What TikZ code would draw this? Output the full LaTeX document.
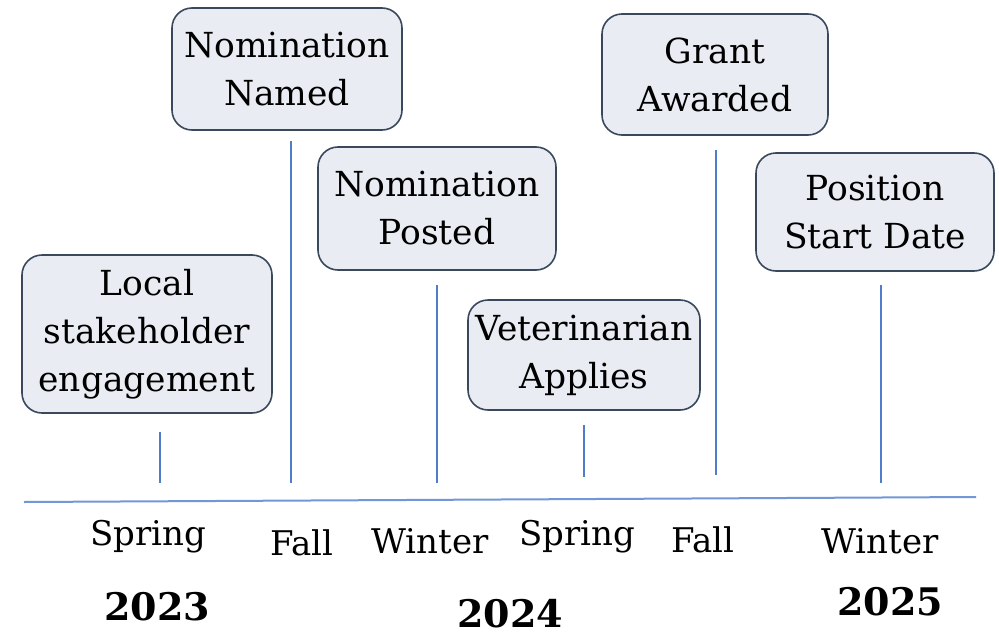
\documentclass[tikz,border=0pt]{standalone}
\usepackage{fontspec}
\setmainfont{DejaVu Serif}
\definecolor{boxfill}{RGB}{233,236,242}
\definecolor{boxline}{RGB}{58,72,92}
\definecolor{tl}{RGB}{80,124,204}
\begin{document}
\begin{tikzpicture}[x=1pt,y=-1pt,
  evbox/.style={draw=boxline, fill=boxfill, line width=1.6pt, rounded corners=20pt,
    align=center, inner sep=0pt, font=\fontsize{34.5}{48}\selectfont},
  season/.style={font=\fontsize{34}{40}\selectfont, inner sep=0pt},
  yearlbl/.style={font=\fontsize{38}{40}\selectfont\bfseries, inner sep=0pt},
  tick/.style={draw=tl, line width=1.3pt}]
\useasboundingbox (0,0) rectangle (999,640);

\node[evbox, minimum width=250pt, minimum height=158pt] (b1) at (147,334) {Local\\stakeholder\\engagement};
\node[evbox, minimum width=230pt, minimum height=122pt] (b2) at (287,69) {Nomination\\Named};
\node[evbox, minimum width=238pt, minimum height=123pt] (b3) at (437,208.5) {Nomination\\Posted};
\node[evbox, minimum width=232pt, minimum height=110pt] (b4) at (584,355) {Veterinarian\\Applies};
\node[evbox, minimum width=226pt, minimum height=121pt] (b5) at (715,74.5) {Grant\\Awarded};
\node[evbox, minimum width=238pt, minimum height=118pt] (b6) at (875,212) {Position\\Start Date};

\coordinate (t1a) at (160,432); \coordinate (t1b) at (160,483);
\coordinate (t2a) at (291,141); \coordinate (t2b) at (291,483);
\coordinate (t3a) at (437,285); \coordinate (t3b) at (437,483);
\coordinate (t4a) at (584,425); \coordinate (t4b) at (584,477);
\coordinate (t5a) at (716,150); \coordinate (t5b) at (716,475);
\coordinate (t6a) at (881,285); \coordinate (t6b) at (881,483);
\draw[tick] (t1a) -- (t1b);
\draw[tick] (t2a) -- (t2b);
\draw[tick] (t3a) -- (t3b);
\draw[tick] (t4a) -- (t4b);
\draw[tick] (t5a) -- (t5b);
\draw[tick] (t6a) -- (t6b);

\coordinate (axl) at (24,502);
\coordinate (axr) at (976,497);
\draw[draw=tl!80, line width=2pt] (axl) -- (axr);

\node[season] (s1) at (148,537) {Spring};
\node[season] (s2) at (302,543) {Fall};
\node[season] (s3) at (430,541) {Winter};
\node[season] (s4) at (577,537) {Spring};
\node[season] (s5) at (703,540) {Fall};
\node[season] (s6) at (880,541) {Winter};

\node[yearlbl] (y1) at (157,607) {2023};
\node[yearlbl] (y2) at (510,614) {2024};
\node[yearlbl] (y3) at (890,602) {2025};
\end{tikzpicture}
\end{document}
